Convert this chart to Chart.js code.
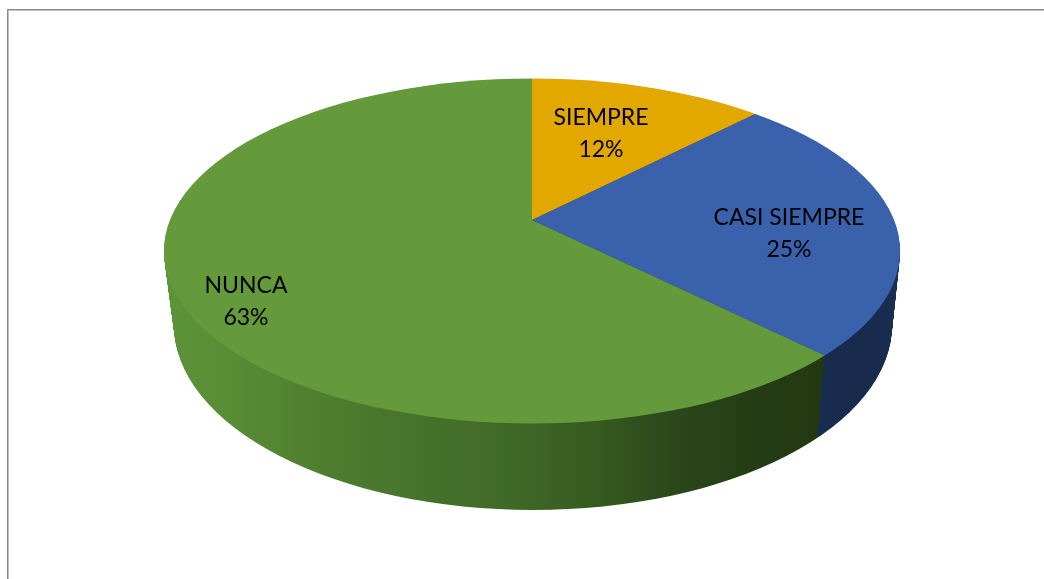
<!DOCTYPE html>
<html>
<head>
<meta charset="utf-8">
<style>
html,body{margin:0;padding:0;background:#fff;overflow:hidden}
#wrap{position:relative;width:1044px;height:579px}
#frame{position:absolute;left:7px;top:9px;right:0;bottom:0;border-top:1px solid #8a8a8a;border-left:1px solid #8a8a8a;box-shadow:inset 1px 1px 0 #c0c0c0}
canvas{position:absolute;left:0;top:0;display:block}
</style>
<script src="https://cdn.jsdelivr.net/npm/chart.js@4"></script>
</head>
<body>
<div id="wrap"><div id="frame"></div><canvas id="c" width="1044" height="579"></canvas></div>
<script>
const categories = ['SIEMPRE', 'CASI SIEMPRE', 'NUNCA'];
const values = [12.4, 25, 62.6];
const topColors = ['#E3A800', '#3A61AB', '#64993C'];
const labelAnchors = [[601, 118], [789, 218], [246, 286]];

// Perspective model of the disc: top face and bottom face
const topFace = {apexX: 532, apexY: 220, cx: 532, cy: 251, rx: 368, ry: 172.5};
const botFace = {apexX: 532, apexY: 292, cx: 533, cy: 325, rx: 359, ry: 185};
const wallStops = [
  [ // yellow (hidden)
    [164, '#8a6a00'], [900, '#5a4500']
  ],
  [ // blue
    [810, '#1a2d52'], [860, '#172a4c'], [900, '#1a2e52']
  ],
  [ // green
    [164, '#5d9438'], [240, '#578b35'], [330, '#4f7d2f'], [420, '#47722b'],
    [520, '#3f6826'], [600, '#35591f'], [680, '#2a461b'], [760, '#243c15'], [830, '#223812']
  ]
];

const lerp = (a, b, t) => a + (b - a) * t;

const disc3d = {
  id: 'disc3d',
  beforeDatasetsDraw(chart) {
    const ctx = chart.ctx;
    const arcs = chart.getDatasetMeta(0).data;
    const c0 = arcs[0].getProps(['x', 'y', 'outerRadius']);
    const zoom = 1.6;
    const drawLayer = (t, useWall) => {
      const apexX = lerp(topFace.apexX, botFace.apexX, t);
      const apexY = lerp(topFace.apexY, botFace.apexY, t);
      const ecx = lerp(topFace.cx, botFace.cx, t);
      const ecy = lerp(topFace.cy, botFace.cy, t);
      const rx = lerp(topFace.rx, botFace.rx, t);
      const ry = lerp(topFace.ry, botFace.ry, t);
      const sx = zoom * rx / topFace.rx;
      const sy = zoom * ry / topFace.rx;
      ctx.save();
      ctx.beginPath();
      ctx.ellipse(ecx, ecy, rx, ry, 0, 0, Math.PI * 2);
      ctx.clip();
      ctx.translate(apexX, apexY);
      ctx.scale(sx, sy);
      ctx.translate(-c0.x, -c0.y);
      arcs.forEach((arc, i) => {
        if (!useWall) { arc.draw(ctx); return; }
        const toLocal = X => c0.x + (X - apexX) / sx;
        const s = wallStops[i];
        const x0 = s[0][0], x1 = s[s.length - 1][0];
        const g = ctx.createLinearGradient(toLocal(x0), 0, toLocal(x1), 0);
        s.forEach(p => g.addColorStop((p[0] - x0) / (x1 - x0), p[1]));
        const saved = arc.options;
        arc.options = Object.assign({}, saved, {backgroundColor: g, borderColor: g});
        arc.draw(ctx);
        arc.options = saved;
      });
      ctx.restore();
    };
    const steps = 90;
    for (let k = steps; k >= 1; k--) drawLayer(k / steps, true);
    drawLayer(0, false);
    return false;
  },
  afterDraw(chart) {
    const ctx = chart.ctx;
    ctx.save();
    ctx.fillStyle = '#000';
    ctx.font = '23px Lato, "Open Sans", sans-serif';
    ctx.textAlign = 'center';
    ctx.textBaseline = 'middle';
    categories.forEach((name, i) => {
      const [x, y] = labelAnchors[i];
      ctx.fillText(name, x, y);
      ctx.fillText(Math.round(values[i]) + '%', x, y + 32);
    });
    ctx.restore();
  }
};

new Chart(document.getElementById('c'), {
  type: 'pie',
  data: {
    labels: categories,
    datasets: [{data: values, backgroundColor: topColors, borderWidth: 0, hoverOffset: 0}]
  },
  options: {
    responsive: false,
    animation: false,
    layout: {padding: 0},
    plugins: {legend: {display: false}, tooltip: {enabled: false}, title: {display: false}}
  },
  plugins: [disc3d]
});
</script>
</body>
</html>
